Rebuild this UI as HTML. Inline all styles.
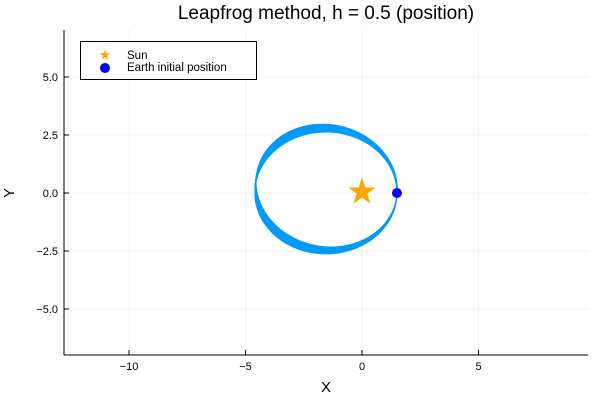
<!DOCTYPE html>
<html><head><meta charset="utf-8"><style>
body{margin:0;background:#fff}
svg{display:block;font-family:"Liberation Sans",sans-serif}
</style></head><body>
<svg id="chart" width="600" height="400" viewBox="0 0 600 400">
<rect width="600" height="400" fill="#fff"/>
<g id="grid"></g>
<g id="orbits"></g>
<g id="marks"></g>
<g id="axes"></g>
<text x="326" y="19" text-anchor="middle" font-size="19" fill="#000">Leapfrog method, h = 0.5 (position)</text>
<text x="326" y="392" text-anchor="middle" font-size="15">X</text>
<text x="14" y="193" text-anchor="middle" font-size="15" transform="rotate(-90 14 193)">Y</text>
<g>
<rect x="80.5" y="41.5" width="176" height="38" fill="#fff" stroke="#000" stroke-width="1"/>
<text x="105" y="56" font-size="14" fill="#ffa500" text-anchor="middle" dominant-baseline="middle">★</text>
<text x="127" y="56" font-size="11.5" dominant-baseline="middle">Sun</text>
<circle cx="105" cy="68" r="5" fill="#0000ff"/>
<text x="127" y="68" font-size="11.5" dominant-baseline="middle">Earth initial position</text>
</g>
</svg>
<script>
const xTicks=[-10,-5,0,5];
const yTicks=[-5,-2.5,0,2.5,5];
const yTickLabels=["−5.0","−2.5","0.0","2.5","5.0"];
const xTickLabels=["−10","−5","0","5"];
const sunPos=[0,0];
const earthPos=[1.5,0];
const perihelion=[1.5];
const eccentricity=[0.508];
const ringAngles=[0,-0.8,-1.6,-2.4,-3.2,-4,-4.8,-5.6,-6.4,-7.2,-8,-8.8,-9.6,-10.4,-11.2,-12];
const L=64,R=588,T=30,B=355;
const sx=v=>362+v*23.3;
const sy=v=>193-v*23.2;
const NS="http://www.w3.org/2000/svg";
function mk(tag,attrs,parent){const e=document.createElementNS(NS,tag);for(const k in attrs)e.setAttribute(k,attrs[k]);parent.appendChild(e);return e;}
const grid=document.getElementById('grid'),axes=document.getElementById('axes');
xTicks.forEach((t,i)=>{
 const l=mk('line',{x1:sx(t),x2:sx(t),y1:T,y2:B,stroke:'#000','stroke-opacity':0.1,'stroke-width':0.5},grid);
 
 
 const tk=mk('line',{x1:sx(t),x2:sx(t),y1:B,y2:B-5,stroke:'#000','stroke-width':1},axes);
 
 
 const tx=mk('text',{x:sx(t),y:B+15,'text-anchor':'middle','font-size':11},axes);
 tx.textContent=xTickLabels[i];
 
 
});
yTicks.forEach((t,i)=>{
 const l=mk('line',{x1:L,x2:R,y1:sy(t),y2:sy(t),stroke:'#000','stroke-opacity':0.1,'stroke-width':0.5},grid);
 
 
 const tk=mk('line',{x1:L,x2:L+5,y1:sy(t),y2:sy(t),stroke:'#000','stroke-width':1},axes);
 
 
 const tx=mk('text',{x:L-6,y:sy(t)+4,'text-anchor':'end','font-size':11},axes);
 tx.textContent=yTickLabels[i];
 
 
});
const ax1=mk('line',{x1:L,x2:R,y1:B,y2:B,stroke:'#000','stroke-width':1},axes);


const ax2=mk('line',{x1:L,x2:L,y1:T,y2:B,stroke:'#000','stroke-width':1},axes);


const orb=document.getElementById('orbits');
const rp=perihelion[0],e=eccentricity[0],p=rp*(1+e);
ringAngles.forEach(deg=>{
 const th=deg*Math.PI/180;let d='';
 for(let k=0;k<=200;k++){const f=k/200*2*Math.PI;const r=p/(1+e*Math.cos(f));
  const x=r*Math.cos(f+th),y=r*Math.sin(f+th);d+=(k?'L':'M')+sx(x).toFixed(2)+' '+sy(y).toFixed(2);}
 const pa=mk('path',{d:d,fill:'none',stroke:'#009af9','stroke-width':0.9},orb);
 
 
});
const marks=document.getElementById('marks');
const sun=mk('text',{x:sx(sunPos[0]),y:sy(sunPos[1])+1,'font-size':36,fill:'#ffa500','text-anchor':'middle','dominant-baseline':'middle'},marks);
sun.textContent='★';


const earth=mk('circle',{cx:sx(earthPos[0]),cy:sy(earthPos[1]),r:5,fill:'#0000ff'},marks);


</script>
</body></html>
